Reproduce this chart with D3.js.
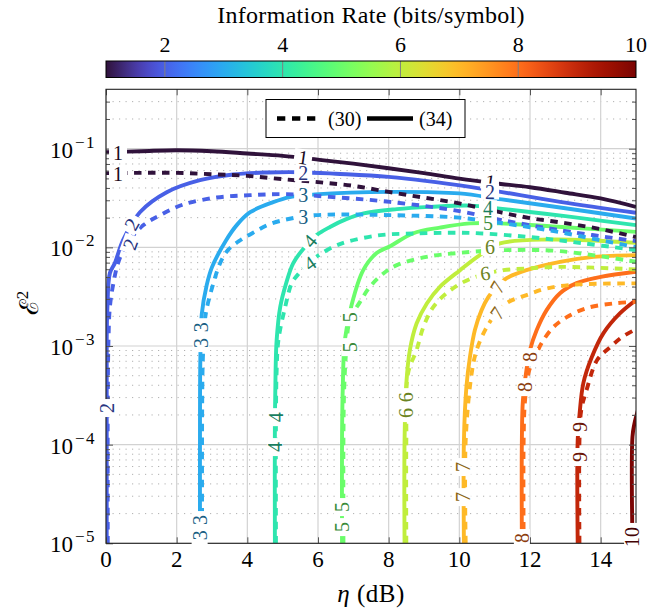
<!DOCTYPE html>
<html><head><meta charset="utf-8">
<script src="https://cdn.jsdelivr.net/npm/d3@7"></script>
<style>body{margin:0;background:#fff}svg{display:block}svg text{font-family:"Liberation Serif","Times New Roman",serif}</style>
</head><body>
<svg id="c" width="647" height="610"></svg>
<script>
// ---------------- data ----------------
const levels = [1,2,3,4,5,6,7,8,9,10];
const xTicks = [0,2,4,6,8,10,12,14];
const yDecades = [1e-5,1e-4,1e-3,1e-2,1e-1];
const cbTicks = [2,4,6,8,10];
const legendLabels = ["(30)","(34)"];

// contour points [eta (dB), E^2] ; solid = (34), dashed = (30)
const solid1  = [[0,0.0921],[1,0.0943],[2,0.0966],[3,0.0943],[4,0.0894],[5,0.0845],[6,0.0774],[7,0.0705],[8,0.0634],[9,0.0565],[10,0.0497],[11,0.0447],[12,0.0407],[13,0.0358],[14,0.0313],[15,0.0257]];
const dashed1 = [[0,0.0565],[1,0.0569],[2,0.0569],[3,0.0551],[4,0.0530],[5,0.0491],[6,0.0458],[7,0.0420],[8,0.0365],[9,0.0319],[10,0.0279],[11,0.0233],[12,0.0198],[13,0.0176],[14,0.0153],[15,0.0127]];
const solid2  = [[0.02,1e-5],[0.02,2.83e-4],[0.02,1.15e-3],[0.04,2.48e-3],[0.11,5.48e-3],[0.25,6.92e-3],[0.48,0.0118],[0.96,0.0227],[1.72,0.0362],[2.66,0.0479],[3.6,0.0548],[4.55,0.0574],[5.5,0.0578],[6.5,0.0558],[8,0.0518],[10.3,0.0410],[12.85,0.0289],[15,0.0224]];
const dashed2 = [[0.05,1e-5],[0.05,2.83e-4],[0.07,1.15e-3],[0.11,2.48e-3],[0.21,4.34e-3],[0.35,7.08e-3],[0.6,0.0110],[1.06,0.0168],[1.53,0.0212],[2.19,0.0272],[3.13,0.0320],[4.08,0.0338],[5.11,0.0346],[6.34,0.0325],[8.04,0.0289],[10,0.0233],[11.2,0.0189],[12.85,0.0149],[15,0.01156]];
const solid3  = [[2.66,1e-5],[2.66,1.78e-4],[2.67,7.2e-4],[2.71,2.10e-3],[2.85,4.14e-3],[3.0,6.30e-3],[3.4,0.0118],[3.7,0.0168],[4.08,0.0227],[4.73,0.0287],[5.2,0.0323],[5.92,0.0344],[8.04,0.0365],[10,0.0352],[11.2,0.0306],[13,0.0249],[15,0.0196]];
const dashed3 = [[2.72,1e-5],[2.72,1.78e-4],[2.74,7.2e-4],[2.8,1.83e-3],[2.86,2.48e-3],[3.04,4.34e-3],[3.23,6.92e-3],[3.45,9.37e-3],[3.8,0.0118],[4.2,0.0143],[4.64,0.0172],[5.2,0.0195],[5.92,0.0212],[8.04,0.0212],[10,0.0200],[11,0.0180],[12,0.0160],[13,0.0139],[14,0.0118],[15,0.01005]];
const solid4  = [[4.78,1e-5],[4.78,1.78e-4],[4.8,5.70e-4],[4.83,1.15e-3],[4.93,2.48e-3],[5.1,4.34e-3],[5.3,6.92e-3],[5.6,9.81e-3],[5.96,0.0133],[6.34,0.0161],[6.8,0.0193],[7.29,0.0221],[8.23,0.0244],[9.17,0.0257],[10.3,0.0265],[11.15,0.0247],[13,0.0207],[15,0.0168]];
const dashed4 = [[4.81,1e-5],[4.81,1.78e-4],[4.83,5.70e-4],[4.88,1.15e-3],[5.07,2.48e-3],[5.26,4.34e-3],[5.49,5.6e-3],[5.77,7.16e-3],[6.06,8.5e-3],[6.43,0.0101],[6.81,0.01137],[7.76,0.0133],[8.7,0.0138],[10.3,0.0140],[12,0.0127],[13.5,0.0110],[15,9.37e-3]];
const solid5  = [[6.68,1e-5],[6.68,1.11e-4],[6.7,3.57e-4],[6.76,1.15e-3],[6.95,2.60e-3],[7.28,5.87e-3],[7.66,8.74e-3],[8.04,0.01028],[8.7,0.0139],[9.45,0.01584],[10.3,0.0175],[11.15,0.0175],[13,0.0160],[15,0.01435]];
const dashed5 = [[6.72,1e-5],[6.72,1.11e-4],[6.74,3.57e-4],[6.8,9.09e-4],[6.9,1.83e-3],[7.19,2.80e-3],[7.47,3.98e-3],[7.85,5.44e-3],[8.23,6.60e-3],[9.07,8.01e-3],[10.02,8.80e-3],[11.3,9.37e-3],[12.85,9.15e-3],[15,7.13e-3]];
const solid6  = [[8.45,1e-5],[8.45,1.11e-4],[8.5,4.18e-4],[8.6,9.09e-4],[8.79,1.69e-3],[9.08,2.70e-3],[9.45,3.98e-3],[10.02,5.87e-3],[10.58,8.34e-3],[11.15,0.01095],[12.57,0.0120],[15,0.0111]];
const dashed6 = [[8.5,1e-5],[8.5,1.11e-4],[8.55,5.31e-4],[8.79,9.09e-4],[8.98,1.55e-3],[9.26,2.48e-3],[9.64,3.43e-3],[10.11,4.44e-3],[10.7,5.35e-3],[11.25,5.87e-3],[11.9,6.11e-3],[12.85,6.34e-3],[15,5.97e-3]];
const solid7  = [[10.13,1e-5],[10.13,1.11e-4],[10.2,3.83e-4],[10.3,7.72e-4],[10.44,1.45e-3],[10.63,2.31e-3],[10.82,3.13e-3],[11.06,3.95e-3],[11.34,4.87e-3],[11.9,5.87e-3],[12.85,7.13e-3],[13.8,8.01e-3],[15,8.34e-3]];
const dashed7 = [[10.18,1e-5],[10.18,1.11e-4],[10.35,5.31e-4],[10.49,9.09e-4],[10.73,1.45e-3],[10.96,1.96e-3],[11.34,2.72e-3],[11.9,3.28e-3],[12.47,3.83e-3],[13.32,4.2e-3],[15,4.31e-3]];
const solid8  = [[11.77,1e-5],[11.77,1.11e-4],[11.8,2.83e-4],[11.9,5.70e-4],[12.0,9.09e-4],[12.19,1.45e-3],[12.47,2.31e-3],[12.85,3.43e-3],[13.32,4.34e-3],[14,5.02e-3],[15,5.65e-3]];
const dashed8 = [[11.82,1e-5],[11.82,1.11e-4],[11.86,2.83e-4],[11.98,5.7e-4],[12.14,7.72e-4],[12.33,1.07e-3],[12.66,1.55e-3],[13.04,1.96e-3],[13.6,2.42e-3],[14.36,2.70e-3],[15,2.80e-3]];
const solid9  = [[13.35,1e-5],[13.35,1.11e-4],[13.4,1.99e-4],[13.51,4.21e-4],[13.75,7.72e-4],[14.08,1.35e-3],[14.55,2.15e-3],[15,2.92e-3]];
const dashed9 = [[13.4,1e-5],[13.4,1.11e-4],[13.45,2.24e-4],[13.6,3.57e-4],[13.9,7.2e-4],[14.27,9.74e-4],[14.6,1.23e-3],[15,1.48e-3]];
const solid10 = [[14.9,1e-5],[14.9,1.2e-4],[14.95,1.6e-4],[15.05,2.2e-4]];

const solidSets  = [solid1,solid2,solid3,solid4,solid5,solid6,solid7,solid8,solid9,solid10];
const dashedSets = [dashed1,dashed2,dashed3,dashed4,dashed5,dashed6,dashed7,dashed8,dashed9];

// contour labels: text, eta, E^2, angle
const labelText  = ["1","1","1","2","3","3","2","2","2","4","4","1","2","4","5","6","6","7","7","8","8","3","3","3","3","4","4","5","5","5","5","6","6","7","7","8","9","9","10"];
const labelEta   = [0.34,0.34,5.58,5.58,5.58,5.58,0.73,0.68,0.03,5.77,5.77,10.87,10.87,10.81,10.81,10.87,10.73,11.07,11.07,12.0,11.86,2.68,2.68,2.65,2.65,4.81,4.78,6.9,6.9,6.68,6.68,8.49,8.49,10.1,10.1,11.77,13.42,13.42,14.89];
const labelE2    = [0.0894,0.0551,0.0820,0.0565,0.0338,0.0202,0.0172,0.0108,2.35e-4,0.0116,6.92e-3,0.0465,0.0368,0.0249,0.0176,0.01005,5.48e-3,3.95e-3,2.15e-3,7.72e-4,3.83e-4,1.55e-3,1.07e-3,1.72e-5,1.21e-5,1.90e-4,9.45e-5,1.96e-3,9.74e-4,2.33e-5,1.46e-5,3.03e-4,2.09e-4,5.93e-5,2.94e-5,1.13e-5,1.51e-4,7.49e-5,1.16e-5];
const labelAngle = [0,0,8,0,0,0,-60,-70,-90,-50,-35,8,0,0,0,0,-8,-60,-55,-90,-90,-90,-90,-90,-90,-90,-90,-90,-90,-90,-90,-90,-90,-90,-90,-90,-90,-90,-90];

// ---------------- drawing ----------------
const FONT = "'Liberation Serif','Times New Roman',serif";
const L = 106, R = 636, T = 89.3, B = 543.3;
const x = d3.scaleLinear().domain([0,15]).range([L,R]);
const y = d3.scaleLog().domain([1e-5,0.4]).range([B,T]);
const cx = d3.scaleLinear().domain([1,10]).range([L,R]);

function cmap(t){
  if (t < 0.05) return d3.interpolateRgb("#30123b", d3.interpolateTurbo(0.05))(t/0.05);
  if (t > 0.95) return d3.interpolateRgb(d3.interpolateTurbo(0.95), "#7a0403")((t-0.95)/0.05);
  return d3.interpolateTurbo(t);
}
const colorOf = v => cmap((cx(v)-L)/(R-L));
const labelColor = v => d3.interpolateRgb(colorOf(v), "#000")(0.45);

const svg = d3.select("#c");
const defs = svg.append("defs");
defs.append("clipPath").attr("id","clip").append("rect")
  .attr("x",L).attr("y",T).attr("width",R-L).attr("height",B-T);

// colorbar
const grad = defs.append("linearGradient").attr("id","cb").attr("x1","0%").attr("x2","100%");
d3.range(0,1.0001,0.02).forEach(t=>grad.append("stop").attr("offset",(t*100)+"%").attr("stop-color",cmap(t)));
const cbTop = 61, cbH = 16.5;
svg.append("rect").attr("x",L).attr("y",cbTop).attr("width",R-L).attr("height",cbH).attr("fill","url(#cb)");
svg.append("g").selectAll("line").data(cbTicks.filter(v=>v<10)).join("line")
  .attr("x1",d=>cx(d)).attr("x2",d=>cx(d)).attr("y1",cbTop).attr("y2",cbTop+cbH)
  .attr("stroke","#808080").attr("stroke-width",1);
svg.append("rect").attr("x",L).attr("y",cbTop).attr("width",R-L).attr("height",cbH)
  .attr("fill","none").attr("stroke","#000").attr("stroke-width",1);
svg.append("g").selectAll("text").data(cbTicks).join("text")
  .attr("x",d=>cx(d)).attr("y",52).attr("text-anchor","middle")
  .attr("font-family",FONT).attr("font-size",22).text(d=>d);
svg.append("text").attr("x",(L+R)/2).attr("y",23).attr("text-anchor","middle")
  .attr("font-family",FONT).attr("font-size",24).attr("letter-spacing",0.3).text("Information Rate (bits/symbol)");

// grid
const minors = [];
yDecades.concat([1]).forEach(d=>{ for(let m=2;m<=9;m++){ const v=m*d; if(v<0.4) minors.push(v);} });
const grid = svg.append("g");
grid.selectAll(".mn").data(minors).join("line")
  .attr("x1",L).attr("x2",R).attr("y1",d=>y(d)).attr("y2",d=>y(d))
  .attr("stroke","#b0b0b0").attr("stroke-width",1).attr("stroke-dasharray","1.2,5.3");
grid.selectAll(".mjy").data(yDecades).join("line")
  .attr("x1",L).attr("x2",R).attr("y1",d=>y(d)).attr("y2",d=>y(d))
  .attr("stroke","#d2d2d2").attr("stroke-width",1.2);
grid.selectAll(".mjx").data(xTicks).join("line")
  .attr("x1",d=>x(d)).attr("x2",d=>x(d)).attr("y1",T).attr("y2",B)
  .attr("stroke","#d2d2d2").attr("stroke-width",1.2);

// contours
const line = d3.line().x(d=>x(d[0])).y(d=>y(d[1])).curve(d3.curveCatmullRom.alpha(0.5));
const cg = svg.append("g").attr("clip-path","url(#clip)");
solidSets.forEach((pts,i)=>{
  cg.append("path").attr("d",line(pts)).attr("fill","none")
    .attr("stroke",colorOf(levels[i])).attr("stroke-width",3.9);
});
dashedSets.forEach((pts,i)=>{
  cg.append("path").attr("d",line(pts)).attr("fill","none")
    .attr("stroke",colorOf(levels[i])).attr("stroke-width",3.9).attr("stroke-dasharray","7.5,6.5");
});

// axes (ticks inward)
function styleAxis(g){ g.select(".domain").remove(); g.selectAll(".tick line").attr("stroke","#555"); }
const yMinorIn = minors.filter(v=>v>=1e-5);
svg.append("g").attr("transform",`translate(${L},0)`).call(d3.axisLeft(y).tickValues(yDecades).tickSize(-7).tickFormat(()=>"")).call(styleAxis);
svg.append("g").attr("transform",`translate(${L},0)`).call(d3.axisLeft(y).tickValues(yMinorIn).tickSize(-4).tickFormat(()=>"")).call(styleAxis);
svg.append("g").attr("transform",`translate(${R},0)`).call(d3.axisRight(y).tickValues(yDecades).tickSize(-7).tickFormat(()=>"")).call(styleAxis);
svg.append("g").attr("transform",`translate(${R},0)`).call(d3.axisRight(y).tickValues(yMinorIn).tickSize(-4).tickFormat(()=>"")).call(styleAxis);
svg.append("g").attr("transform",`translate(0,${B})`).call(d3.axisBottom(x).tickValues(xTicks).tickSize(-6).tickFormat(()=>"")).call(styleAxis);
svg.append("g").attr("transform",`translate(0,${T})`).call(d3.axisTop(x).tickValues(xTicks).tickSize(-6).tickFormat(()=>"")).call(styleAxis);
svg.append("rect").attr("x",L).attr("y",T).attr("width",R-L).attr("height",B-T)
  .attr("fill","none").attr("stroke","#222").attr("stroke-width",1.1);

// tick labels
svg.append("g").selectAll("text").data(xTicks).join("text")
  .attr("x",d=>x(d)).attr("y",B+24).attr("text-anchor","middle")
  .attr("font-family",FONT).attr("font-size",23).text(d=>d);
const yl = svg.append("g").selectAll("text").data(yDecades).join("text")
  .attr("x",96).attr("y",d=>y(d)+9).attr("text-anchor","end")
  .attr("font-family",FONT).attr("font-size",23);
yl.append("tspan").text("10");
yl.append("tspan").attr("dx",2).attr("dy",-10).attr("font-size",17).attr("letter-spacing",1.5).text(d=>"\u2212"+Math.round(-Math.log10(d)));

// axis titles
const xt = svg.append("text").attr("x",(L+R)/2).attr("y",602).attr("text-anchor","middle")
  .attr("font-family",FONT).attr("font-size",25).attr("letter-spacing",0.5);
xt.append("tspan").attr("font-style","italic").text("\u03B7");
xt.append("tspan").text(" (dB)");
const ytl = svg.append("text").attr("transform","translate(38,303) rotate(-90)").attr("text-anchor","middle")
  .attr("font-family",FONT).attr("font-size",26);
ytl.append("tspan").text("\u2130");
ytl.append("tspan").attr("dy",-10).attr("font-size",17).text("2");

// contour labels
const lg = svg.append("g");
labelText.forEach((t,i)=>{
  const g = lg.append("g").attr("transform",`translate(${x(labelEta[i])},${y(labelE2[i])}) rotate(${labelAngle[i]})`);
  const rect = g.append("rect").attr("fill","#fff");
  const tx = g.append("text").attr("text-anchor","middle").attr("dy","0.35em")
    .attr("font-family",FONT).attr("font-size",20).attr("fill",labelColor(+t)).text(t);
  const w = tx.node().getComputedTextLength();
  rect.attr("x",-w/2-4).attr("y",-8).attr("width",w+8).attr("height",16);
});

// legend
const lgx = 266, lgy = 99.5;
svg.append("rect").attr("x",lgx).attr("y",lgy).attr("width",199).attr("height",38)
  .attr("fill","#fff").attr("stroke","#000").attr("stroke-width",1);
const ly = lgy+19;
svg.append("line").attr("x1",277).attr("x2",317).attr("y1",ly).attr("y2",ly)
  .attr("stroke","#000").attr("stroke-width",4.5).attr("stroke-dasharray","8.3,6.7");
svg.append("text").attr("x",328).attr("y",ly+7).attr("font-family",FONT).attr("font-size",20).text(legendLabels[0]);
svg.append("line").attr("x1",367).attr("x2",413).attr("y1",ly).attr("y2",ly)
  .attr("stroke","#000").attr("stroke-width",4.5);
svg.append("text").attr("x",419).attr("y",ly+7).attr("font-family",FONT).attr("font-size",20).text(legendLabels[1]);
</script>
</body></html>
